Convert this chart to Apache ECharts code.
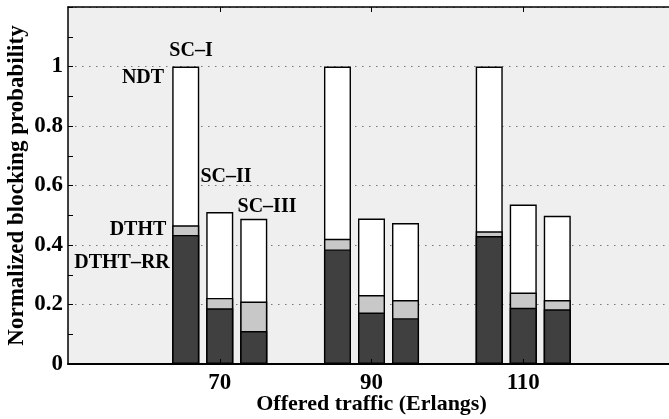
<!DOCTYPE html>
<html><head><meta charset="utf-8">
<script src="https://cdn.jsdelivr.net/npm/echarts@6/dist/echarts.min.js"></script>
<style>html,body{margin:0;padding:0;background:#fff}#c{width:669px;height:419px}</style>
</head><body><div id="c"></div>
<script>
// axis categories (edges 50 and 130 are unlabeled axis limits)
const xTicks = ['50', '70', '90', '110', '130'];
const loads = ['70', '90', '110'];
// normalized blocking probability per scheme class and algorithm, per load
const scI_NDT = [1.0, 1.0, 1.0];
const scI_DTHT = [0.466, 0.421, 0.446];
const scI_RR = [0.434, 0.385, 0.430];
const scII_NDT = [0.511, 0.489, 0.536];
const scII_DTHT = [0.222, 0.232, 0.240];
const scII_RR = [0.187, 0.173, 0.189];
const scIII_NDT = [0.488, 0.474, 0.498];
const scIII_DTHT = [0.210, 0.215, 0.215];
const scIII_RR = [0.111, 0.154, 0.184];
const classes = ['SC–I', 'SC–II', 'SC–III'];
const yTickLabels = ['0', '0.2', '0.4', '0.6', '0.8', '1'];

const FONT = '"Liberation Serif", "Times New Roman", serif';
function pad(arr) { return xTicks.map(t => { const i = loads.indexOf(t); return i >= 0 ? arr[i] : null; }); }

const schemes = [
  { name: 'NDT', color: '#ffffff', data: [scI_NDT, scII_NDT, scIII_NDT] },
  { name: 'DTHT', color: '#c8c8c8', data: [scI_DTHT, scII_DTHT, scIII_DTHT] },
  { name: 'DTHT–RR', color: '#404040', data: [scI_RR, scII_RR, scIII_RR] }
];

const series = [];
schemes.forEach((s, ai) => {
  s.data.forEach((d, ci) => {
    series.push({
      type: 'bar', name: s.name + ' ' + classes[ci], xAxisIndex: ai, yAxisIndex: 0,
      data: pad(d), barWidth: 27, barGap: '26%',
      itemStyle: { color: s.color, borderColor: '#000', borderWidth: 1.4 },
      emphasis: { disabled: true }, animation: false
    });
  });
});

const showIdx = (i) => i > 0 && i < xTicks.length - 1;
const baseX = {
  type: 'category', data: xTicks, boundaryGap: false, gridIndex: 0
};
const xAxes = [
  Object.assign({}, baseX, {
    position: 'bottom',
    name: 'Offered traffic (Erlangs)', nameLocation: 'middle', nameGap: 29, nameMoveOverlap: false,
    nameTextStyle: { fontFamily: FONT, fontWeight: 'bold', fontSize: 22, color: '#000' },
    axisLine: { show: true, lineStyle: { color: '#000', width: 2 } },
    axisTick: { show: true, inside: true, length: 5, interval: (i) => showIdx(i), lineStyle: { color: '#000' } },
    axisLabel: { interval: (i) => showIdx(i), fontFamily: FONT, fontWeight: 'bold', fontSize: 23, color: '#000', margin: 8 },
    splitLine: { show: false }, z: 10
  }),
  Object.assign({}, baseX, { show: false }),
  Object.assign({}, baseX, { show: false }),
  Object.assign({}, baseX, {
    position: 'top',
    axisLine: { show: true, lineStyle: { color: '#000', width: 1.5 } },
    axisTick: { show: true, inside: true, length: 5, interval: (i) => showIdx(i), lineStyle: { color: '#000' } },
    axisLabel: { show: false }, splitLine: { show: false }
  })
];

const option = {
  animation: false,
  backgroundColor: '#ffffff',
  grid: { left: 68, top: 7, width: 607, bottom: 55, show: true, backgroundColor: '#efefef', borderWidth: 0,
          containLabel: false, outerBoundsMode: 'none' },
  xAxis: xAxes,
  yAxis: {
    type: 'value', min: 0, max: 1.2, interval: 0.2,
    name: 'Normalized blocking probability', nameLocation: 'middle', nameGap: 39, nameMoveOverlap: false,
    nameTextStyle: { fontFamily: FONT, fontWeight: 'bold', fontSize: 23, color: '#000' },
    axisLine: { show: true, lineStyle: { color: '#000', width: 1.5 } },
    axisTick: { show: true, inside: true, length: 5, lineStyle: { color: '#000' } },
    minorTick: { show: true, splitNumber: 2, length: 5, lineStyle: { color: '#000' } },
    axisLabel: {
      fontFamily: FONT, fontWeight: 'bold', fontSize: 23, color: '#000', margin: 5,
      formatter: (v) => { const i = Math.round(v / 0.2); return i < yTickLabels.length ? yTickLabels[i] : ''; }
    },
    splitLine: { show: true, lineStyle: { color: '#777', width: 1, type: [1.5, 5.5] } }
  },
  graphic: [
    { type: 'text', x: 191, y: 51, style: { text: 'SC–I', font: 'bold 20px ' + FONT, fill: '#000', align: 'center', verticalAlign: 'middle' } },
    { type: 'text', x: 143, y: 78, style: { text: 'NDT', font: 'bold 20px ' + FONT, fill: '#000', align: 'center', verticalAlign: 'middle' } },
    { type: 'text', x: 226, y: 177, style: { text: 'SC–II', font: 'bold 20px ' + FONT, fill: '#000', align: 'center', verticalAlign: 'middle' } },
    { type: 'text', x: 267, y: 207, style: { text: 'SC–III', font: 'bold 20px ' + FONT, fill: '#000', align: 'center', verticalAlign: 'middle' } },
    { type: 'text', x: 138, y: 230, style: { text: 'DTHT', font: 'bold 20px ' + FONT, fill: '#000', align: 'center', verticalAlign: 'middle' } },
    { type: 'text', x: 122, y: 263, style: { text: 'DTHT–RR', font: 'bold 20px ' + FONT, fill: '#000', align: 'center', verticalAlign: 'middle' } }
  ],
  series: series
};
const chart = echarts.init(document.getElementById('c'), null, { renderer: 'canvas' });
chart.setOption(option);
</script></body></html>
